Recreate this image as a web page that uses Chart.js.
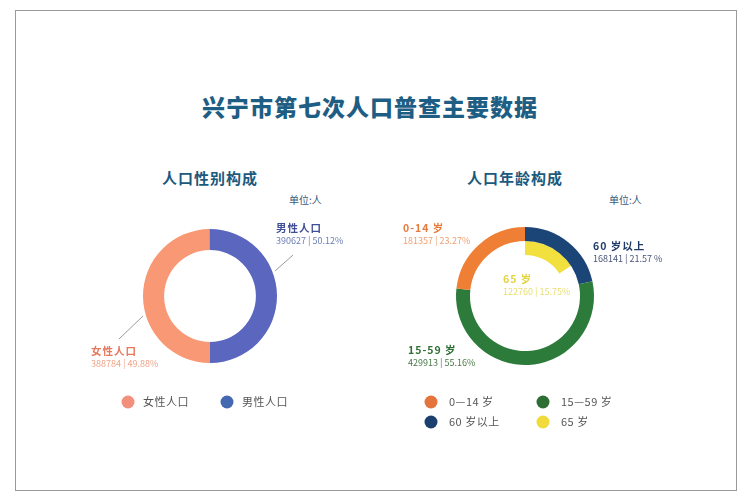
<!DOCTYPE html>
<html lang="zh-CN">
<head>
<meta charset="utf-8">
<title>兴宁市第七次人口普查主要数据</title>
<script src="https://cdn.jsdelivr.net/npm/chart.js@4/dist/chart.umd.min.js"></script>
<style>
  html, body { margin: 0; padding: 0; background: #fff; }
  body { width: 750px; height: 500px; position: relative; overflow: hidden;
         font-family: "Noto Sans CJK SC", "Noto Sans", sans-serif; }
  .frame { position: absolute; left: 15px; top: 10px; width: 722px; height: 481px;
           border: 1.5px solid #9a9a9a; box-sizing: border-box; }
  .title { position: absolute; left: 0; width: 740px; top: 91px; text-align: center;
           font-size: 23px; font-weight: 900; letter-spacing: 1px; color: #1f5e84; line-height: 30px; }
  .sub { position: absolute; width: 200px; top: 168px; text-align: center; font-size: 15px;
         font-weight: 700; letter-spacing: 1px; color: #1b5a7e; line-height: 20px; }
  .unit { position: absolute; top: 192px; font-size: 10px; color: #3a5a7a; line-height: 16px; }
  .chart-box { position: absolute; top: 150px; height: 290px; }
</style>
</head>
<body>
<div class="frame"></div>
<div class="title">兴宁市第七次人口普查主要数据</div>
<div class="sub" style="left:110px">人口性别构成</div>
<div class="sub" style="left:415px">人口年龄构成</div>
<div class="unit" style="left:289px">单位:人</div>
<div class="unit" style="left:609px">单位:人</div>
<div class="chart-box" style="left:60px;width:300px"><canvas id="sex-chart"></canvas></div>
<div class="chart-box" style="left:375px;width:330px"><canvas id="age-chart"></canvas></div>

<script>
// --- data ---
const sexLabels = ['女性人口', '男性人口'];
const sexValues = [388784, 390627];
const sexPct = ['49.88%', '50.12%'];
const sexColors = ['#f99874', '#5b66be'];
const sexLegendColors = ['#f28f7d', '#4568b2'];

// outer ring, drawn clockwise from 12 o'clock
const ageLabels = ['60 岁以上', '15—59 岁', '0—14 岁'];
const ageCalloutNames = ['60 岁以上', '15-59 岁', '0-14 岁'];
const ageValues = [168141, 429913, 181357];
const agePct = ['21.57 %', '55.16%', '23.27%'];
const ageColors = ['#1c4577', '#2d7b3b', '#ee7f35'];
const ageLegendColors = ['#1b3f6e', '#2f6e33', '#e4733c'];

// inner ring: 65 and over
const seniorLabel = '65 岁';
const seniorValue = 122760;
const seniorPct = '15.75%';
const seniorColor = '#f1e03d';
const seniorLegendColor = '#f0db3a';

const totalPopulation = 779411;

const FONT = '"Noto Sans CJK SC", "Noto Sans", sans-serif';

// Callout text next to each slice, placed relative to the doughnut centre
const callouts = {
  id: 'callouts',
  afterDatasetsDraw(chart, args, opts) {
    const arc = chart.getDatasetMeta(0).data[0];
    if (!arc) return;
    const ctx = chart.ctx;
    ctx.save();
    ctx.textAlign = 'left';
    ctx.textBaseline = 'middle';
    opts.items.forEach(item => {
      if (item.line) {
        ctx.strokeStyle = '#9a9a9a';
        ctx.lineWidth = 1;
        ctx.beginPath();
        ctx.moveTo(arc.x + item.line[0], arc.y + item.line[1]);
        ctx.lineTo(arc.x + item.line[2], arc.y + item.line[3]);
        ctx.stroke();
      }
      ctx.letterSpacing = '1px';
      ctx.font = `bold 10.5px ${FONT}`;
      ctx.fillStyle = item.color;
      ctx.fillText(item.name, arc.x + item.dx, arc.y + item.dy);
      ctx.letterSpacing = '0px';
      ctx.font = `9px ${FONT}`;
      ctx.fillStyle = item.subColor;
      ctx.fillText(item.value, arc.x + item.dx, arc.y + item.dy + 13);
    });
    ctx.restore();
  }
};

// Legend drawn as a small grid so the columns line up
const gridLegend = {
  id: 'gridLegend',
  afterDraw(chart, args, opts) {
    const arc = chart.getDatasetMeta(0).data[0];
    if (!arc) return;
    const ctx = chart.ctx;
    ctx.save();
    ctx.textAlign = 'left';
    ctx.textBaseline = 'middle';
    ctx.font = `11px ${FONT}`;
    ctx.letterSpacing = '0.5px';
    opts.items.forEach((item, i) => {
      const col = i % opts.columns;
      const row = Math.floor(i / opts.columns);
      const cx = arc.x + opts.x + col * opts.colWidth;
      const cy = arc.y + opts.y + row * opts.rowHeight;
      ctx.fillStyle = item.color;
      ctx.beginPath();
      ctx.arc(cx, cy, 6.5, 0, Math.PI * 2);
      ctx.fill();
      ctx.fillStyle = '#555';
      ctx.fillText(item.text, cx + opts.textGap, cy);
    });
    ctx.restore();
  }
};

const commonOptions = {
  responsive: true,
  maintainAspectRatio: false,
  animation: false,
  events: [],
  plugins: {
    legend: { display: false },
    tooltip: { enabled: false }
  }
};

function buildSexChart() {
  const ctx = document.getElementById('sex-chart');
  // per-label layout (offsets from the doughnut centre)
  const layout = [
    { dx: -119, dy: 55, line: [-67, 20, -91, 43], color: '#e6785e', subColor: '#f0a48a' },
    { dx: 66, dy: -68, line: [65, -25, 83, -41], color: '#3f4e97', subColor: '#6d7db5' }
  ];
  const items = sexLabels.map((name, i) => Object.assign({
    name: name,
    value: `${sexValues[i]} | ${sexPct[i]}`
  }, layout[i]));

  return new Chart(ctx, {
    type: 'doughnut',
    data: {
      labels: sexLabels,
      datasets: [{
        data: sexValues,
        backgroundColor: sexColors,
        borderWidth: 0,
        hoverBorderWidth: 0,
        hoverOffset: 0,
        rotation: 180
      }]
    },
    options: Object.assign({}, commonOptions, {
      cutout: '68.5%',
      layout: { padding: { left: 83, right: 83, top: 79, bottom: 77 } },
      plugins: Object.assign({}, commonOptions.plugins, {
        callouts: { items: items },
        gridLegend: {
          items: sexLabels.map((t, i) => ({ text: t, color: sexLegendColors[i] })),
          columns: 2, x: -82, y: 106, colWidth: 99, rowHeight: 20, textGap: 15
        }
      })
    }),
    plugins: [callouts, gridLegend]
  });
}

function buildAgeChart() {
  const ctx = document.getElementById('age-chart');
  const layout = [
    { dx: 68, dy: -50, color: '#1f3a66', subColor: '#4a5577' },
    { dx: -117, dy: 54, color: '#2e6e32', subColor: '#4a7a4a' },
    { dx: -122, dy: -68, color: '#e57a3c', subColor: '#efa070' }
  ];
  const items = ageCalloutNames.map((name, i) => Object.assign({
    name: name,
    value: `${ageValues[i]} | ${agePct[i]}`
  }, layout[i]));
  items.push({
    name: seniorLabel, value: `${seniorValue} | ${seniorPct}`,
    dx: -22, dy: -17, color: '#e3d43c', subColor: '#e9df70'
  });

  // legend order: 0-14, 15-59, 60+, 65
  const legendItems = [2, 1, 0].map(i => ({ text: ageLabels[i], color: ageLegendColors[i] }));
  legendItems.push({ text: seniorLabel, color: seniorLegendColor });

  return new Chart(ctx, {
    type: 'doughnut',
    data: {
      labels: ageLabels.concat([seniorLabel]),
      datasets: [
        {
          data: ageValues,
          backgroundColor: ageColors,
          borderWidth: 0,
          hoverBorderWidth: 0,
          hoverOffset: 0
        },
        {
          data: [seniorValue, totalPopulation - seniorValue],
          backgroundColor: [seniorColor, 'rgba(0,0,0,0)'],
          borderWidth: 0,
          hoverBorderWidth: 0,
          hoverOffset: 0
        }
      ]
    },
    options: Object.assign({}, commonOptions, {
      cutout: '59.5%',
      layout: { padding: { left: 81, right: 111, top: 77, bottom: 75 } },
      plugins: Object.assign({}, commonOptions.plugins, {
        callouts: { items: items },
        gridLegend: {
          items: legendItems,
          columns: 2, x: -94, y: 106, colWidth: 112, rowHeight: 20, textGap: 18
        }
      })
    }),
    plugins: [callouts, gridLegend]
  });
}

window.sexChart = buildSexChart();
window.ageChart = buildAgeChart();
</script>
</body>
</html>
